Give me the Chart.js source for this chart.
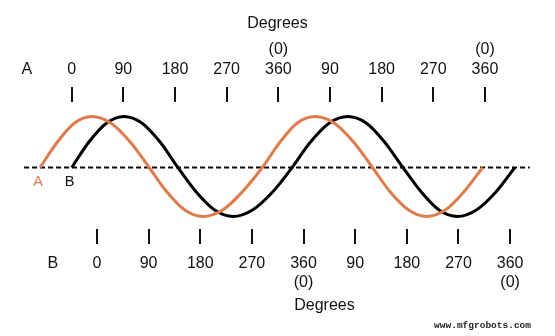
<!DOCTYPE html>
<html>
<head>
<meta charset="utf-8">
<script src="https://cdn.jsdelivr.net/npm/chart.js@4/dist/chart.umd.min.js"></script>
<style>
  html, body { margin: 0; padding: 0; background: #ffffff; }
  #wrap { width: 555px; height: 336px; }
</style>
</head>
<body>
<div id="wrap"><canvas id="c" width="555" height="336"></canvas></div>
<script>
// ---- data (phase in degrees on the A scale, relative amplitude) ----
const waveADeg = [-55, -25, 5, 35, 68, 102, 135, 166, 197, 228, 263, 297, 332, 363, 393, 424, 457, 491, 524, 555, 587, 618, 651, 683, 716];
const waveAVal = [0, 0.51, 0.89, 1.02, 0.89, 0.51, 0, -0.49, -0.85, -0.98, -0.85, -0.49, 0, 0.51, 0.89, 1.02, 0.89, 0.51, 0, -0.49, -0.85, -0.98, -0.85, -0.49, 0];
const waveBDeg = [0, 30, 61, 91, 122, 154, 185, 217, 249, 281, 315, 350, 384, 416, 449, 481, 513, 545, 577, 609, 640, 672, 705, 739, 772];
const waveBVal = [0, 0.51, 0.89, 1.02, 0.89, 0.51, 0, -0.49, -0.85, -0.98, -0.85, -0.49, 0, 0.51, 0.89, 1.02, 0.89, 0.51, 0, -0.49, -0.85, -0.98, -0.85, -0.49, 0];
const axisLineDeg = [-83, 798];
const axisLineVal = [0, 0];

const topTickValues = [-78, 0, 90, 180, 270, 360, 450, 540, 630, 720];
const topTickLabels = ['A', '0', '90', '180', '270', ['(0)', '360'], '90', '180', '270', ['(0)', '360']];
const bottomTickValues = [-77, 0, 90, 180, 270, 360, 450, 540, 630, 720];
const bottomTickLabels = ['B', '0', '90', '180', '270', ['360', '(0)'], '90', '180', '270', ['360', '(0)']];
const axisTitle = 'Degrees';
const seriesNames = ['A', 'B'];
const watermark = 'www.mfgrobots.com';

// ---- styling ----
const FONT = "'Liberation Sans', Arial, Helvetica, sans-serif";
const INK = '#111111';
const ORANGE = '#e07b4b';

const toPts = (xs, ys) => xs.map((x, i) => ({x: x, y: ys[i]}));

const labelPlugin = {
  id: 'waveLabels',
  afterLayout(chart) {
    // shift bottom axis title box so its title sits where the reference has it
    const s = chart.scales.xB;
    s.left += 47; s.right += 47;
  },
  afterDatasetsDraw(chart) {
    const ctx = chart.ctx;
    const x = chart.scales.x, y = chart.scales.y;
    const yLab = y.getPixelForValue(0) + 14;
    ctx.save();
    ctx.font = '14.5px ' + FONT;
    ctx.textAlign = 'center';
    ctx.textBaseline = 'middle';
    ctx.fillStyle = ORANGE;
    ctx.fillText(seriesNames[0], x.getPixelForValue(waveADeg[0]) - 2, yLab);
    ctx.fillStyle = INK;
    ctx.fillText(seriesNames[1], x.getPixelForValue(waveBDeg[0]) - 2, yLab);
    ctx.font = "bold 9.5px 'Liberation Mono', 'DejaVu Sans Mono', monospace";
    ctx.fillStyle = '#222';
    ctx.textAlign = 'right';
    ctx.fillText(watermark, 531, 326);
    ctx.restore();
  }
};

new Chart(document.getElementById('c'), {
  type: 'line',
  data: {
    datasets: [
      { label: seriesNames[0], data: toPts(waveADeg, waveAVal), borderColor: ORANGE, borderWidth: 3,
        pointRadius: 0, cubicInterpolationMode: 'monotone', fill: false, order: 1, xAxisID: 'x', yAxisID: 'y' },
      { label: seriesNames[1], data: toPts(waveBDeg, waveBVal), borderColor: '#000000', borderWidth: 3,
        pointRadius: 0, cubicInterpolationMode: 'monotone', fill: false, order: 2, xAxisID: 'x', yAxisID: 'y' },
      { label: 'axis', data: toPts(axisLineDeg, axisLineVal), borderColor: '#000000', borderWidth: 2,
        borderDash: [5, 3], pointRadius: 0, fill: false, order: 3, xAxisID: 'x', yAxisID: 'y' }
    ]
  },
  options: {
    responsive: false,
    animation: false,
    devicePixelRatio: 1,
    layout: { padding: 0 },
    plugins: { legend: { display: false }, tooltip: { enabled: false }, title: { display: false } },
    scales: {
      y: { type: 'linear', display: false, min: -1.23, max: 1.31 },
      x: {
        type: 'linear', axis: 'x', position: 'top', min: -124.9, max: 842,
        afterBuildTicks: (s) => { s.ticks = topTickValues.map(v => ({value: v})); },
        afterFit: (s) => { s.height = 102; },
        border: { display: false },
        grid: {
          drawOnChartArea: false, drawTicks: true, tickLength: 15, lineWidth: 2,
          color: (c) => (c.tick && c.tick.value === topTickValues[0]) ? 'rgba(0,0,0,0)' : INK
        },
        ticks: {
          autoSkip: false, maxRotation: 0, minRotation: 0, padding: 7, color: INK,
          font: { family: FONT, size: 16, lineHeight: 1.25 },
          callback: (v) => { const i = topTickValues.indexOf(v); return i >= 0 ? topTickLabels[i] : ''; }
        },
        title: { display: true, text: axisTitle, color: INK, font: { family: FONT, size: 16, lineHeight: 1.2 },
                 padding: { top: 14, bottom: 0 } }
      },
      xB: {
        type: 'linear', axis: 'x', position: 'bottom', min: -169, max: 798.2,
        afterBuildTicks: (s) => { s.ticks = bottomTickValues.map(v => ({value: v})); },
        afterFit: (s) => { s.height = 107; },
        border: { display: false },
        grid: {
          drawOnChartArea: false, drawTicks: true, tickLength: 15, lineWidth: 2,
          color: (c) => (c.tick && c.tick.value === bottomTickValues[0]) ? 'rgba(0,0,0,0)' : INK
        },
        ticks: {
          autoSkip: false, maxRotation: 0, minRotation: 0, padding: 10, color: INK,
          font: { family: FONT, size: 16, lineHeight: 1.1875 },
          callback: (v) => { const i = bottomTickValues.indexOf(v); return i >= 0 ? bottomTickLabels[i] : ''; }
        },
        title: { display: true, text: axisTitle, color: INK, font: { family: FONT, size: 16, lineHeight: 1.2 },
                 padding: { top: 0, bottom: 21 } }
      }
    }
  },
  plugins: [labelPlugin]
});
</script>
</body>
</html>
